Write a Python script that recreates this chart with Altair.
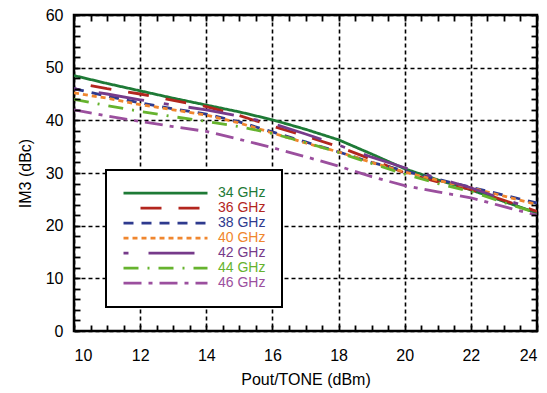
import altair as alt
import pandas as pd

# ---- data ----
pout = list(range(10, 25))
series = ["34 GHz", "36 GHz", "38 GHz", "40 GHz", "42 GHz", "44 GHz", "46 GHz"]
im3_34 = [48.5, 47.0, 45.6, 44.2, 42.9, 41.6, 40.1, 38.3, 36.3, 33.6, 30.8, 28.7, 26.8, 24.6, 22.4]
im3_36 = [47.2, 46.0, 45.0, 43.8, 42.6, 40.9, 38.9, 37.0, 35.0, 32.6, 30.0, 28.3, 26.9, 24.8, 22.7]
im3_38 = [46.0, 44.6, 43.3, 42.2, 41.2, 39.7, 37.8, 35.9, 34.0, 32.0, 30.4, 28.8, 27.3, 25.8, 24.3]
im3_40 = [45.2, 44.2, 43.0, 42.0, 41.0, 39.5, 37.6, 35.7, 34.0, 32.0, 30.2, 28.6, 27.2, 25.6, 24.0]
im3_42 = [46.0, 45.0, 43.9, 42.9, 42.0, 40.8, 39.4, 37.4, 35.3, 33.0, 31.0, 29.0, 27.2, 25.0, 23.0]
im3_44 = [44.0, 42.8, 41.7, 40.7, 39.8, 38.8, 37.5, 35.8, 33.9, 31.8, 29.8, 28.0, 26.5, 24.4, 22.4]
im3_46 = [42.0, 40.8, 39.8, 38.8, 37.9, 36.4, 34.8, 33.1, 31.3, 29.3, 27.6, 26.4, 25.3, 23.6, 22.0]
all_series = [im3_34, im3_36, im3_38, im3_40, im3_42, im3_44, im3_46]

x_major = [10, 12, 14, 16, 18, 20, 22, 24]
y_major = [0, 10, 20, 30, 40, 50, 60]
x_minor = [10 + 0.5 * i for i in range(29)]
y_minor = list(range(0, 61, 2))

# ---- styles ----
colors = ["#1e7a36", "#b3261e", "#2e3a8e", "#f0862e", "#763a8a", "#66b32e", "#9b4f9e"]
dashes = [[1, 0], [0, 17, 21, 0], [10, 8], [5, 4], [5, 20, 46, 20], [15, 9, 2, 9], [18, 7, 4, 7]]

rows = []
for name, vals in zip(series, all_series):
    for xv, yv in zip(pout, vals):
        rows.append({"series": name, "x": xv, "im3": yv})
df = pd.DataFrame(rows)

FONT = "Liberation Sans"
xscale = alt.Scale(domain=[10, 24], nice=False, zero=False)
yscale = alt.Scale(domain=[0, 60], nice=False, zero=False)

# inward minor ticks, drawn by a second x / y axis pulled inside the frame
minor_x_axis = alt.Axis(orient="bottom", values=x_minor, labels=False, domain=False,
                        grid=False, ticks=True, tickSize=6, tickWidth=1.8,
                        tickColor="black", tickOpacity=1, title="", offset=-6, zindex=2)
minor_y_axis = alt.Axis(orient="left", values=y_minor, labels=False, domain=False,
                        grid=False, ticks=True, tickSize=6, tickWidth=1.8,
                        tickColor="black", tickOpacity=1, title="", offset=-6, zindex=2)
minor_x_axis_top = alt.Axis(orient="top", values=x_minor, labels=False, domain=False,
                            grid=False, ticks=True, tickSize=6, tickWidth=1.8,
                            tickColor="black", tickOpacity=1, title="", offset=-6, zindex=2)
minor_y_axis_right = alt.Axis(orient="right", values=y_minor, labels=False, domain=False,
                              grid=False, ticks=True, tickSize=6, tickWidth=1.8,
                              tickColor="black", tickOpacity=1, title="", offset=-6, zindex=2)

main = alt.Chart(df).mark_line(strokeWidth=2.8, clip=True).encode(
    x=alt.X("x:Q", scale=xscale, axis=alt.Axis(
        orient="bottom", values=x_major, title="Pout/TONE (dBm)", grid=True,
        gridColor="black", gridDash=[4, 3], gridWidth=1.6, gridOpacity=1,
        ticks=False, domain=False, labelFont=FONT, labelFontSize=16,
        labelColor="black", labelPadding=16, titleFont=FONT, titleFontSize=16,
        titleFontWeight="normal", titleColor="black", titlePadding=8)),
    y=alt.Y("im3:Q", scale=yscale, axis=alt.Axis(
        orient="left", values=y_major, title="IM3 (dBc)", grid=True,
        gridColor="black", gridDash=[4, 3], gridWidth=1.6, gridOpacity=1,
        ticks=False, domain=False, labelFont=FONT, labelFontSize=16,
        labelColor="black", labelPadding=11, titleFont=FONT, titleFontSize=16,
        titleFontWeight="normal", titleColor="black", titlePadding=12)),
    color=alt.Color("series:N", scale=alt.Scale(domain=series, range=colors),
                    sort=series,
                    legend=alt.Legend(
                        orient="none", legendX=32, legendY=155, title=None,
                        symbolType="stroke", symbolSize=7056, symbolStrokeWidth=2.8,
                        clipHeight=14.3, rowPadding=0, labelFont=FONT,
                        labelFontSize=14, labelOffset=9, padding=16,
                        labelAlign="left", labelBaseline="middle",
                        strokeColor="black", fillColor="white", labelLimit=0,
                        labelColor={"expr": "scale('color', datum.value)"})),
    strokeDash=alt.StrokeDash("series:N", scale=alt.Scale(domain=series, range=dashes),
                              sort=series, legend=None),
    detail="series:N",
)

ghost_a = alt.Chart(df).mark_point(opacity=0).encode(
    x=alt.X("x:Q", scale=xscale, axis=minor_x_axis),
    y=alt.Y("im3:Q", scale=yscale, axis=minor_y_axis),
)
ghost_b = alt.Chart(df).mark_point(opacity=0).encode(
    x=alt.X("x:Q", scale=xscale, axis=minor_x_axis_top),
    y=alt.Y("im3:Q", scale=yscale, axis=minor_y_axis_right),
)

chart = alt.layer(main, ghost_a, ghost_b).resolve_axis(
    x="independent", y="independent"
).properties(
    width=463, height=316, autosize="none",
    padding={"left": 74, "top": 15, "right": 10, "bottom": 62},
    background="white",
).configure_view(
    stroke="black", strokeWidth=2.5
).configure_legend(
    strokeWidth=2
)

chart.save("out.html", embed_options={"renderer": "svg", "actions": False})
